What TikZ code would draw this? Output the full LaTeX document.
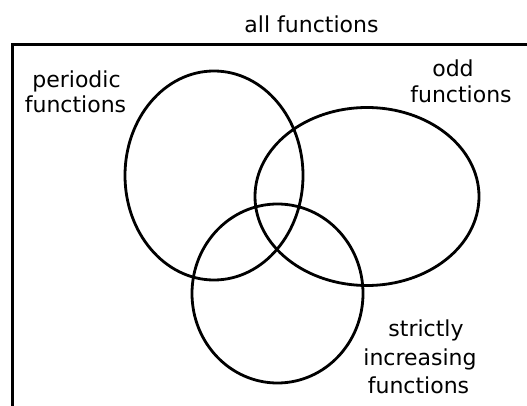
\documentclass[tikz,border=0pt]{standalone}
\usepackage{fontspec}
\setmainfont{DejaVu Sans}
\begin{document}
\begin{tikzpicture}[x=1pt,y=-1pt,
  lbl/.style={anchor=base,inner sep=0pt,font=\fontsize{22}{26}\selectfont},
  setline/.style={draw=black,line width=2.8pt}]
\useasboundingbox (0,0) rectangle (527,406);
\clip (0,0) rectangle (527,406);
% frame of all functions
\draw[line width=3pt] (12,44.5) -- (540,44.5) -- (540,430) -- (12,430) -- cycle;
\node[lbl] (all) at (311.5,33) {all functions};
% sets
\coordinate (cP) at (214,175.5);
\coordinate (cO) at (367,196.5);
\coordinate (cS) at (277.5,293.5);
\draw[setline] (cP) ellipse [x radius=89, y radius=104.5];
\draw[setline] (cO) ellipse [x radius=112, y radius=89];
\draw[setline] (cS) ellipse [x radius=85.5, y radius=89.5];
% labels
\node[lbl] (p1) at (76.5,88) {periodic};
\node[lbl] (p2) at (75.5,113) {functions};
\node[lbl] (o1) at (453,77) {odd};
\node[lbl] (o2) at (461,103) {functions};
\node[lbl] (s1) at (426,336) {strictly};
\node[lbl] (s2) at (420,365) {increasing};
\node[lbl] (s3) at (418.5,393) {functions};
\end{tikzpicture}
\end{document}
